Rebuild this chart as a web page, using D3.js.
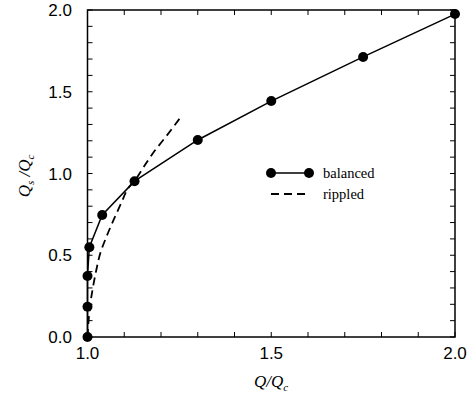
<!DOCTYPE html>
<html><head><meta charset="utf-8">
<script src="https://cdn.jsdelivr.net/npm/d3@7"></script>
<style>body{margin:0;background:#fff}</style>
</head><body>
<svg id="c" width="474" height="401"></svg>
<script>
const balancedX = [1.0, 1.0, 1.0, 1.005, 1.04, 1.128, 1.30, 1.50, 1.75, 2.0];
const balancedY = [0.0, 0.185, 0.373, 0.549, 0.746, 0.953, 1.205, 1.443, 1.713, 1.975];
const rippledX = [1.0, 1.003, 1.008, 1.015, 1.024, 1.035, 1.051, 1.071, 1.092, 1.114, 1.128, 1.150, 1.178, 1.215, 1.251];
const rippledY = [0.0, 0.10, 0.208, 0.306, 0.41, 0.514, 0.61, 0.716, 0.82, 0.92, 0.955, 1.03, 1.124, 1.23, 1.337];
const xTicks = [1.0, 1.5, 2.0];
const yTicks = [0.0, 0.5, 1.0, 1.5, 2.0];

const svg = d3.select("#c");
const L = 87.5, R = 455, T = 10, B = 337;
const x = d3.scaleLinear().domain([1, 2]).range([L, R]);
const y = d3.scaleLinear().domain([0, 2]).range([B, T]);
const minor = d3.range(0, 21).map(i => i / 10);
const minorX = d3.range(10, 21).map(i => i / 10);

const g = svg.append("g");
// frame
g.append("rect").attr("x", L).attr("y", T).attr("width", R - L).attr("height", B - T)
  .attr("fill", "none").attr("stroke", "#000").attr("stroke-width", 1.5);

// inward ticks
const tk = 5;
minorX.forEach(v => {
  g.append("line").attr("x1", x(v)).attr("x2", x(v)).attr("y1", B).attr("y2", B - tk).attr("stroke", "#000").attr("stroke-width", 1);
  g.append("line").attr("x1", x(v)).attr("x2", x(v)).attr("y1", T).attr("y2", T + tk).attr("stroke", "#000").attr("stroke-width", 1);
});
minor.forEach(v => {
  g.append("line").attr("y1", y(v)).attr("y2", y(v)).attr("x1", L).attr("x2", L + tk).attr("stroke", "#000").attr("stroke-width", 1);
  g.append("line").attr("y1", y(v)).attr("y2", y(v)).attr("x1", R).attr("x2", R - tk).attr("stroke", "#000").attr("stroke-width", 1);
});

// tick labels
const tf = "'Liberation Sans', Arial, Helvetica, sans-serif";
xTicks.forEach(v => {
  g.append("text").attr("x", x(v)).attr("y", 359).attr("text-anchor", "middle")
    .attr("font-family", tf).attr("font-size", 17).text(v.toFixed(1));
});
yTicks.forEach(v => {
  g.append("text").attr("x", 72).attr("y", y(v) + 6).attr("text-anchor", "end")
    .attr("font-family", tf).attr("font-size", 17).text(v.toFixed(1));
});

// axis labels
const sf = "'Liberation Serif', 'Times New Roman', serif";
const xl = g.append("text").attr("x", 271).attr("y", 387).attr("text-anchor", "middle")
  .attr("font-family", sf).attr("font-style", "italic").attr("font-size", 17);
xl.append("tspan").text("Q/Q");
xl.append("tspan").attr("font-size", 11).attr("dy", 4).text("c");

const yl = g.append("text").attr("transform", "translate(30,176) rotate(-90)").attr("text-anchor", "middle")
  .attr("font-family", sf).attr("font-style", "italic").attr("font-size", 17);
yl.append("tspan").text("Q");
yl.append("tspan").attr("font-size", 11).attr("dy", 4).text("s");
yl.append("tspan").attr("dy", -4).text(" /Q");
yl.append("tspan").attr("font-size", 11).attr("dy", 4).text("c");

const line = d3.line().x(d => x(d[0])).y(d => y(d[1]));
const rip = rippledX.map((v, i) => [v, rippledY[i]]);
g.append("path").datum(rip).attr("d", line.curve(d3.curveMonotoneY))
  .attr("fill", "none").attr("stroke", "#000").attr("stroke-width", 1.8).attr("stroke-dasharray", "8,5");

const bal = balancedX.map((v, i) => [v, balancedY[i]]);
g.append("path").datum(bal).attr("d", d3.line().x(d => x(d[0])).y(d => y(d[1])))
  .attr("fill", "none").attr("stroke", "#000").attr("stroke-width", 1.5);
g.selectAll("circle.b").data(bal).enter().append("circle")
  .attr("cx", d => x(d[0])).attr("cy", d => y(d[1])).attr("r", 5).attr("fill", "#000");

// legend
g.append("line").attr("x1", 271).attr("x2", 309).attr("y1", 173).attr("y2", 173).attr("stroke", "#000").attr("stroke-width", 1.5);
g.append("circle").attr("cx", 271).attr("cy", 173).attr("r", 5).attr("fill", "#000");
g.append("circle").attr("cx", 309).attr("cy", 173).attr("r", 5).attr("fill", "#000");
g.append("text").attr("x", 323).attr("y", 178).attr("font-family", sf).attr("font-size", 14.5).text("balanced");
g.append("line").attr("x1", 271).attr("x2", 305).attr("y1", 194).attr("y2", 194).attr("stroke", "#000").attr("stroke-width", 1.8).attr("stroke-dasharray", "8,5");
g.append("text").attr("x", 323).attr("y", 199).attr("font-family", sf).attr("font-size", 14.5).text("rippled");
</script>
</body></html>
